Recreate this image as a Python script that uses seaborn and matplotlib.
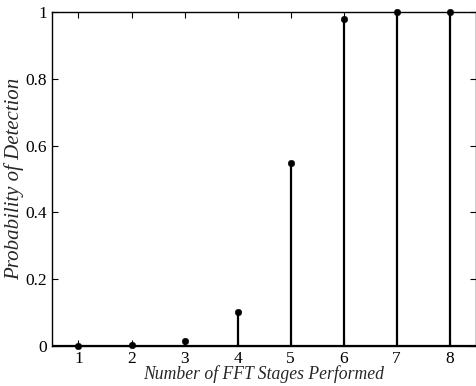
import matplotlib
matplotlib.use("Agg")
import matplotlib.pyplot as plt
import seaborn as sns
import pandas as pd

# number of FFT stages and detection probability
stages = [1, 2, 3, 4, 5, 6, 7, 8]
prob_detect = [0.0, 0.002, 0.015, 0.10, 0.548, 0.979, 1.0, 1.0]
y_ticks = [0, 0.2, 0.4, 0.6, 0.8, 1]
y_tick_labels = ["0", "0.2", "0.4", "0.6", "0.8", "1"]

df = pd.DataFrame({"stage": stages, "prob": prob_detect})

sns.set_style("ticks")
plt.rcParams["font.family"] = ["Liberation Serif", "DejaVu Serif"]

fig = plt.figure(figsize=(4.77, 3.86), dpi=100)
ax = fig.add_axes([0.109, 0.104, 0.889, 0.865])

# stems
ax.vlines(df["stage"], 0, df["prob"], color="black", linewidth=1.6)
ax.axhline(0, color="black", linewidth=1.6)
sns.scatterplot(data=df, x="stage", y="prob", ax=ax, color="black",
                s=22, edgecolor="black", zorder=3, clip_on=False)

ax.set_xlim(0.5, 8.5)
ax.set_ylim(0, 1)
ax.set_xticks(stages)
ax.set_yticks(y_ticks)
ax.set_yticklabels(y_tick_labels)
ax.tick_params(direction="in", top=True, right=True, labelsize=12.5,
               length=4, width=0.8, colors="black")
for s in ax.spines.values():
    s.set_linewidth(1.0)
    s.set_color("black")

ax.set_xlabel("Number of FFT Stages Performed", fontsize=12.7, style="italic", labelpad=-1)
ax.set_ylabel("Probability of Detection", fontsize=15, style="italic", labelpad=1)

fig.savefig("out.png", dpi=100)
